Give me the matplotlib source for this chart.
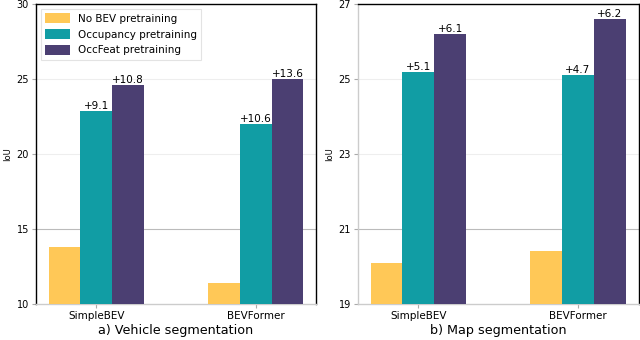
import matplotlib
matplotlib.use("Agg")
import matplotlib.pyplot as plt
import numpy as np

models = ["SimpleBEV", "BEVFormer"]
series = ["No BEV pretraining", "Occupancy pretraining", "OccFeat pretraining"]
colors = ["#FFC857", "#119DA4", "#4B3F72"]

veh_none = [13.8, 11.4]
veh_occ = [22.9, 22.0]
veh_feat = [24.6, 25.0]
veh_occ_lbl = ["+9.1", "+10.6"]
veh_feat_lbl = ["+10.8", "+13.6"]

map_none = [20.1, 20.4]
map_occ = [25.2, 25.1]
map_feat = [26.2, 26.6]
map_occ_lbl = ["+5.1", "+4.7"]
map_feat_lbl = ["+6.1", "+6.2"]

veh_ticks = [10, 15, 20, 25, 30]
map_ticks = [19, 21, 23, 25, 27]

fig = plt.figure(figsize=(6.4, 3.4), dpi=100)
ax1 = fig.add_axes([0.056, 0.106, 0.438, 0.882])
ax2 = fig.add_axes([0.559, 0.106, 0.439, 0.882])

x = np.arange(len(models))
w = 0.2


def draw(ax, none, occ, feat, occ_lbl, feat_lbl, ticks, xlabel, left_col, legend):
    ax.bar(x - w, none, w, color=colors[0], label=series[0], zorder=3)
    ax.bar(x, occ, w, color=colors[1], label=series[1], zorder=3)
    ax.bar(x + w, feat, w, color=colors[2], label=series[2], zorder=3)
    for xi, v, t in zip(x, occ, occ_lbl):
        ax.text(xi, v, t, ha="center", va="bottom", fontsize=7.5, zorder=4)
    for xi, v, t in zip(x + w, feat, feat_lbl):
        ax.text(xi, v, t, ha="center", va="bottom", fontsize=7.5, zorder=4)
    ax.set_ylim(ticks[0], ticks[-1])
    ax.set_yticks(ticks)
    ax.set_xticks(x)
    ax.set_xticklabels(models, fontsize=7.5)
    ax.tick_params(axis="y", labelsize=7, length=3, color="#aaaaaa", pad=2)
    ax.tick_params(axis="x", length=3, color="#aaaaaa", pad=2)
    for i, t in enumerate(ticks[1:-1]):
        c = "#bbbbbb" if i == 0 else "#eeeeee"
        ax.axhline(t, color=c, lw=0.8, zorder=1)
    ax.set_xlabel(xlabel, fontsize=9.2, labelpad=2)
    ax.set_ylabel("IoU", fontsize=6, labelpad=3)
    ax.spines["top"].set_color("black")
    ax.spines["right"].set_color("black")
    ax.spines["bottom"].set_color("#cccccc")
    ax.spines["left"].set_color(left_col)
    for s in ax.spines.values():
        s.set_linewidth(1.0)
    if legend:
        leg = ax.legend(loc="upper left", fontsize=7.5, frameon=True, fancybox=False,
                        edgecolor="#dddddd", borderpad=0.4, handlelength=2.4,
                        handleheight=1.15, handletextpad=0.8,
                        borderaxespad=0.45, labelspacing=0.5)
        leg.get_frame().set_linewidth(0.8)


draw(ax1, veh_none, veh_occ, veh_feat, veh_occ_lbl, veh_feat_lbl, veh_ticks,
     "a) Vehicle segmentation", "black", True)
draw(ax2, map_none, map_occ, map_feat, map_occ_lbl, map_feat_lbl, map_ticks,
     "b) Map segmentation", "#cccccc", False)

fig.savefig("out.png", dpi=100)
